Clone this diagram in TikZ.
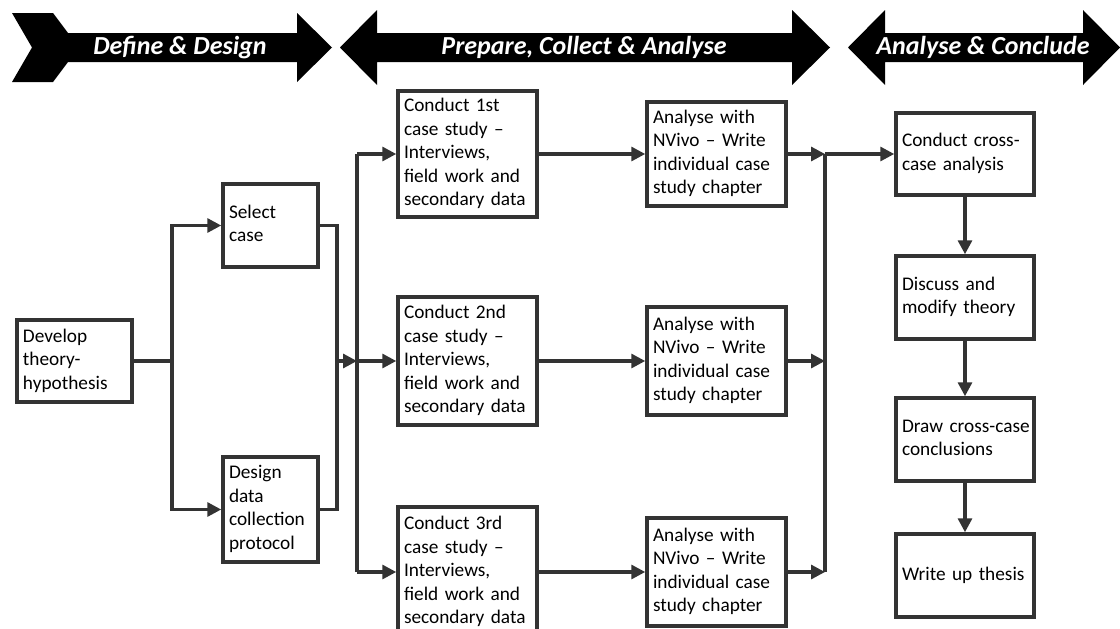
\documentclass[tikz,border=0pt]{standalone}
\usepackage{fontspec}
\setmainfont{Carlito}
\usetikzlibrary{arrows.meta}
\definecolor{ln}{HTML}{333333}
\tikzset{
 box/.style={draw=ln, line width=3.5pt, fill=white, inner xsep=6pt, inner ysep=0pt, align=left, font=\fontsize{19.3}{23.5}\selectfont, text=black},
 conn/.style={draw=ln, line width=3.2pt},
 arr/.style={conn, -{Triangle[length=14pt,width=14pt]}},
 banner/.style={fill=black},
 btext/.style={text=white, font=\fontsize{26}{30}\selectfont\bfseries\itshape},
}
\newcommand\bx[6]{%
 \pgfmathsetmacro\bw{#4-#2}\pgfmathsetmacro\bh{#5-#3}\pgfmathsetmacro\tw{#4-#2-12}%
 \pgfmathsetmacro\cx{(#2+#4)/2}\pgfmathsetmacro\cy{(#3+#5)/2}%
 \node[box,minimum width=\bw pt,minimum height=\bh pt,text width=\tw pt] (#1) at (\cx,\cy) {\begin{tabular}{@{}l@{}}#6\end{tabular}};}
\begin{document}
\begin{tikzpicture}[x=1pt,y=-1pt]
\useasboundingbox (0,0) rectangle (1120,629);
\fill[white] (0,0) rectangle (1120,629);
% banners
\fill[banner] (12,13) -- (53,13) -- (68,33) -- (297,33) -- (297,13) -- (332,47.5) -- (297,82) -- (297,62) -- (68,62) -- (53,82) -- (12,82) -- (32,47.5) -- cycle;
\node[btext] (b1) at (180,47.5) {Define \& Design};
\fill[banner] (340,47.5) -- (377,10) -- (377,33) -- (792,33) -- (792,10) -- (830,47.5) -- (792,85) -- (792,62) -- (377,62) -- (377,85) -- cycle;
\node[btext] (b2) at (584,47.5) {Prepare, Collect \& Analyse};
\fill[banner] (848,47.5) -- (885,10) -- (885,33) -- (1083,33) -- (1083,10) -- (1120,47.5) -- (1083,85) -- (1083,62) -- (885,62) -- (885,85) -- cycle;
\node[btext] (b3) at (983,47.5) {Analyse \& Conclude};
% boxes
\bx{dev}{17}{320}{132}{402}{Develop\\theory-\\hypothesis}
\bx{sel}{223}{184}{318}{267}{Select\\case}
\bx{des}{223}{457}{318}{562}{Design\\data\\collection\\protocol}
\bx{c1}{398}{91}{537}{217}{Conduct 1st\\case study –\\Interviews,\\field work and\\secondary data}
\bx{c2}{398}{297}{537}{425}{Conduct 2nd\\case study –\\Interviews,\\field work and\\secondary data}
\bx{c3}{398}{507}{537}{637}{Conduct 3rd\\case study –\\Interviews,\\field work and\\secondary data}
\bx{a1}{647}{102}{786}{206}{Analyse with\\NVivo – Write\\individual case\\study chapter}
\bx{a2}{647}{307}{786}{415}{Analyse with\\NVivo – Write\\individual case\\study chapter}
\bx{a3}{647}{518}{786}{626}{Analyse with\\NVivo – Write\\individual case\\study chapter}
\bx{cross}{896}{113}{1034}{195}{Conduct cross-\\case analysis}
\bx{disc}{896}{256}{1034}{339}{Discuss and\\modify theory}
\bx{draw}{896}{398}{1034}{481}{Draw cross-case\\conclusions}
\bx{write}{896}{534}{1034}{617}{Write up thesis}
% junctions
\coordinate (j1) at (172,361);
\coordinate (j2) at (337,361);
\coordinate (j3) at (357,361);
\coordinate (j4) at (825,154);
% connectors
\draw[conn] (dev.east) -- (j1);
\draw[arr] (j1) |- (sel.west);
\draw[arr] (j1) |- (des.west);
\draw[conn] (sel.east) -| (j2) |- (des.east);
\draw[arr] (j2) -- (j3);
\draw[conn] (c1.west -| j3) -- (c3.west -| j3);
\draw[arr] (c1.west -| j3) -- (c1.west);
\draw[arr] (c2.west -| j3) -- (c2.west);
\draw[arr] (c3.west -| j3) -- (c3.west);
\draw[arr] (c1.east) -- (c1.east -| a1.west);
\draw[arr] (c2.east) -- (c2.east -| a2.west);
\draw[arr] (c3.east) -- (c3.east -| a3.west);
\draw[conn] (a1.east -| j4) -- (a3.east -| j4);
\draw[arr] (a1.east) -- (a1.east -| j4);
\draw[arr] (a2.east) -- (a2.east -| j4);
\draw[arr] (a3.east) -- (a3.east -| j4);
\draw[arr] (j4) -- (cross.west);
\draw[arr] (cross.south) -- (disc.north);
\draw[arr] (disc.south) -- (draw.north);
\draw[arr] (draw.south) -- (write.north);
\end{tikzpicture}
\end{document}
